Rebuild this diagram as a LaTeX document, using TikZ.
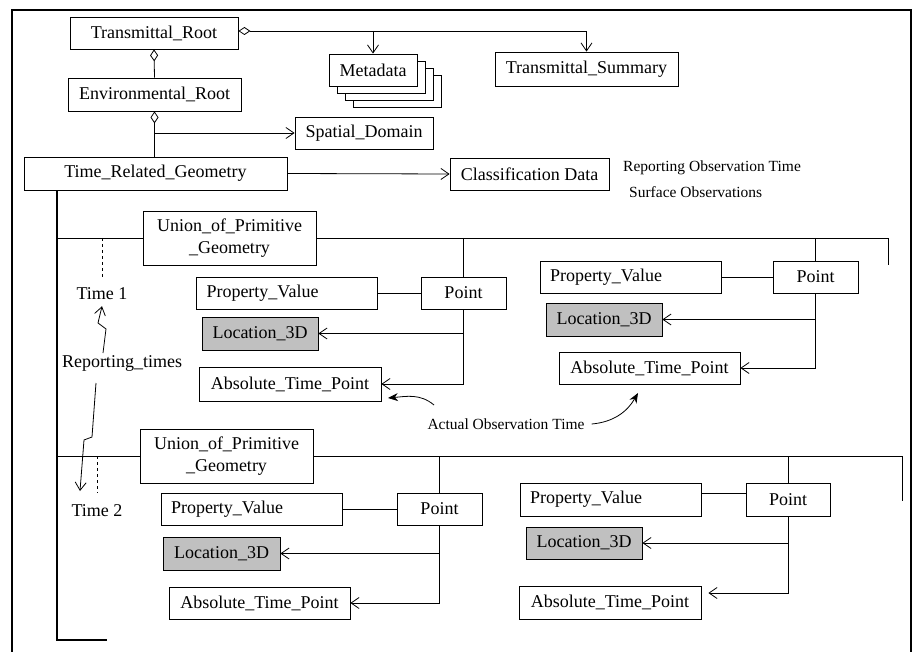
\documentclass[tikz,border=0pt]{standalone}
\usepackage{fontspec}
\setmainfont{Liberation Serif}
\usetikzlibrary{arrows.meta}
\definecolor{boxgray}{RGB}{192,192,192}
\begin{document}
\begin{tikzpicture}[x=1pt,y=-1pt,
  font=\fontsize{18}{20}\selectfont,
  box/.style={draw, line width=0.8pt, fill=white, inner sep=0pt, align=center},
  graybox/.style={box, fill=boxgray},
  pvbox/.style={draw, line width=0.8pt, fill=white, inner ysep=0pt, inner xsep=10pt, text width=#1, align=left, minimum height=32pt},
  lbl/.style={inner sep=0pt},
  small/.style={inner sep=0pt, font=\fontsize{15.5}{17}\selectfont},
  conn/.style={line width=0.8pt},
  arr/.style={conn, -{Straight Barb[length=8pt,width=11pt]}},
  agg/.style={conn, {Diamond[open,length=12pt,width=8pt]}-},
  aggarr/.style={conn, {Diamond[open,length=12pt,width=8pt]}-{Straight Barb[length=8pt,width=11pt]}},
  farr/.style={conn, -{Stealth[length=10pt,width=8pt]}},
  spine/.style={line width=1.3pt}
]
\useasboundingbox (0,0) rectangle (913,652);
% frame
\draw[line width=1.6pt] (12,652) -- (12,10) -- (911,10) -- (911,652);

% metadata stack (behind)
\foreach \k in {3,2,1}{
  \draw[line width=0.8pt, fill=white] (329+8*\k,54+7*\k) rectangle (417+8*\k,86+7*\k);
}

% top nodes
\node[box, minimum width=168pt, minimum height=32pt] (TR) at (154,33) {Transmittal\_Root};
\node[box, minimum width=173pt, minimum height=33pt] (ER) at (154.5,94.5) {Environmental\_Root};
\node[box, minimum width=88pt, minimum height=32pt] (MD) at (373,70) {Metadata};
\node[box, minimum width=183pt, minimum height=34pt] (TS) at (586.5,69) {Transmittal\_Summary};
\node[box, minimum width=138pt, minimum height=32pt] (SD) at (364,133) {Spatial\_Domain};
\node[box, minimum width=263pt, minimum height=33pt] (TRG) at (155.5,173.5) {Time\_Related\_Geometry};
\node[box, minimum width=159pt, minimum height=32pt] (CD) at (529.5,174) {Classification Data};
\node[small, anchor=west] (ROT) at (623,168) {Reporting Observation Time};
\node[small, anchor=west] (SO) at (629,192) {Surface Observations};

% top connectors
\coordinate (trj) at ([yshift=2pt]TR.east);
\draw[aggarr] (trj) -| (TS.north);
\draw[arr] (MD.north |- trj) -- (MD.north);
\draw[agg] (TR.south) -- (ER.north);
\draw[agg] (ER.south) -- (ER.south |- TRG.north);
\draw[arr] (ER.south |- SD.west) -- (SD.west);
\draw[arr] (TRG.east) -- (CD.west);

% group 1
\node[box, minimum width=173pt, minimum height=54pt, font=\fontsize{18}{22}\selectfont] (U1) at (229.5,238) {Union\_of\_Primitive\\\_Geometry};
\node[pvbox=161pt] (PV1) at (287,293) {Property\_Value};
\node[box, minimum width=85pt, minimum height=32pt] (P1) at (463.5,293) {Point};
\node[graybox, minimum width=116pt, minimum height=33pt] (L1) at (260,333.5) {Location\_3D};
\node[box, minimum width=182pt, minimum height=34pt] (A1) at (290,384) {Absolute\_Time\_Point};

\node[pvbox=161pt] (PV2) at (630.5,277) {Property\_Value};
\node[box, minimum width=85pt, minimum height=32pt] (P2) at (815.5,277) {Point};
\node[graybox, minimum width=116pt, minimum height=33pt] (L2) at (604,319.5) {Location\_3D};
\node[box, minimum width=181pt, minimum height=32pt] (A2) at (649.5,368) {Absolute\_Time\_Point};

% group 2
\node[box, minimum width=173pt, minimum height=54pt, font=\fontsize{18}{22}\selectfont] (U2) at (226.5,456) {Union\_of\_Primitive\\\_Geometry};
\node[pvbox=161pt] (PV3) at (251.5,509) {Property\_Value};
\node[box, minimum width=85pt, minimum height=32pt] (P3) at (439.5,509) {Point};
\node[graybox, minimum width=117pt, minimum height=33pt] (L3) at (221.5,553.5) {Location\_3D};
\node[box, minimum width=181pt, minimum height=32pt] (A3) at (259.5,603) {Absolute\_Time\_Point};

\node[pvbox=161pt, minimum height=33pt] (PV4) at (610.5,499.5) {Property\_Value};
\node[box, minimum width=84pt, minimum height=33pt] (P4) at (788,499.5) {Point};
\node[graybox, minimum width=116pt, minimum height=32pt] (L4) at (584,543) {Location\_3D};
\node[box, minimum width=182pt, minimum height=33pt] (A4) at (610,602.5) {Absolute\_Time\_Point};

% labels on the left
\node[lbl] (T1) at (102,294) {Time 1};
\node[lbl] (RT) at (122,363) {Reporting\_times};
\node[lbl] (T2) at (97,511) {Time 2};
\node[small] (AOT) at (506,424) {Actual Observation Time};

% spine
\coordinate (vtop) at (57,0);
\coordinate (vend) at (107,640);
\draw[spine] (TRG.south -| vtop) -- (vend -| vtop) -- (vend);

% group 1 connectors
\coordinate (r1) at (888,265);
\draw[conn] (U1.west -| vtop) -- (U1.west);
\draw[conn] (U1.east) -| (r1);
\draw[conn] (P1.north |- U1.east) -- (P1.north);
\draw[conn] (P2.north |- U1.east) -- (P2.north);
\draw[conn] (PV1.east) -- (P1.west);
\draw[conn] (PV2.east) -- (P2.west);
\draw[arr] (P1.south) |- (L1.east);
\draw[arr] (P1.south) |- (A1.east);
\draw[arr] (P2.south) |- (L2.east);
\draw[arr] (P2.south) |- (A2.east);

% group 2 connectors
\coordinate (r2) at (902,501);
\draw[conn] (U2.west -| vtop) -- (U2.west);
\draw[conn] (U2.east) -| (r2);
\draw[conn] (P3.north |- U2.east) -- (P3.north);
\draw[conn] (P4.north |- U2.east) -- (P4.north);
\draw[conn] (PV3.east) -- (P3.west);
\draw[conn] ([yshift=6.5pt]PV4.east) -- ([yshift=6.5pt]P4.west);
\draw[arr] (P3.south) |- (L3.east);
\draw[arr] (P3.south) |- (A3.east);
\draw[arr] (P4.south) |- (L4.east);
\draw[arr] (P4.south) |- ([xshift=7pt,yshift=9.5pt]A4.east);

% dashed time ticks
\draw[conn, dashed] (T1.north |- U1.west) -- (102,277);
\draw[conn, dashed] (T2.north |- U2.west) -- (97,493);

% reporting time lightning arrows
\draw[arr] (103,353) -- (106,329) -- (98,323) -- ([yshift=-6pt]T1.south);
\draw[arr] (96,383) -- (92,437) -- (84,440) -- (80,491);

% actual observation time arrows
\coordinate (ao1) at (434,405);
\coordinate (ao1t) at (388,398);
\coordinate (ao2t) at (638,393);
\draw[farr] (ao1) to[out=140,in=5] (ao1t);
\draw[farr] ([xshift=7pt]AOT.east) to[out=5,in=240] (ao2t);
\end{tikzpicture}
\end{document}
